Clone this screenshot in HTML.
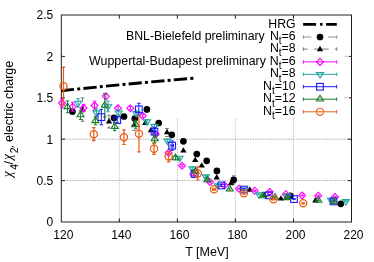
<!DOCTYPE html>
<html><head><meta charset="utf-8"><title>chi4/chi2 electric charge</title>
<style>
html,body{margin:0;padding:0;background:#fff;}
svg{display:block;will-change:transform;}
text{font-family:"Liberation Sans",sans-serif;font-size:12px;fill:#000;}
</style></head>
<body>
<svg width="374" height="262" viewBox="0 0 374 262">
<rect width="374" height="262" fill="#fff"/>
<path d="M119.3 118.3V222.0" stroke="#8c8c8c" stroke-width="0.5" stroke-dasharray="1.5 1.05" fill="none"/>
<path d="M177.4 118.3V222.0" stroke="#8c8c8c" stroke-width="0.5" stroke-dasharray="1.5 1.05" fill="none"/>
<path d="M235.4 118.3V222.0" stroke="#8c8c8c" stroke-width="0.5" stroke-dasharray="1.5 1.05" fill="none"/>
<path d="M293.5 118.3V222.0" stroke="#8c8c8c" stroke-width="0.5" stroke-dasharray="1.5 1.05" fill="none"/>
<path d="M61.3 180.6H351.5" stroke="#686868" stroke-width="0.55" stroke-dasharray="1.5 1.05" fill="none"/>
<path d="M61.3 139.2H351.5" stroke="#686868" stroke-width="0.55" stroke-dasharray="1.5 1.05" fill="none"/>
<rect x="61.3" y="15.0" width="290.2" height="207.0" stroke="#202020" stroke-width="1" fill="none"/>
<path d="M344.4 97.8H351.5" stroke="#9a9a9a" stroke-width="0.6" fill="none"/>
<path d="M344.4 56.4H351.5" stroke="#9a9a9a" stroke-width="0.6" fill="none"/>
<path d="M119.3 15.0v3.7M119.3 222.0v-3.7M177.4 15.0v3.7M177.4 222.0v-3.7M235.4 15.0v3.7M235.4 222.0v-3.7M293.5 15.0v3.7M293.5 222.0v-3.7M61.3 180.6h3.7M351.5 180.6h-3.7M61.3 139.2h3.7M351.5 139.2h-3.7M61.3 97.8h3.7M351.5 97.8h-2.4M61.3 56.4h3.7M351.5 56.4h-2.4" stroke="#202020" stroke-width="1" fill="none"/>
<text x="63.3" y="238.7" text-anchor="middle">120</text>
<text x="121.3" y="238.7" text-anchor="middle">140</text>
<text x="179.4" y="238.7" text-anchor="middle">160</text>
<text x="237.4" y="238.7" text-anchor="middle">180</text>
<text x="295.5" y="238.7" text-anchor="middle">200</text>
<text x="353.5" y="238.7" text-anchor="middle">220</text>
<text x="53.3" y="226.3" text-anchor="end">0</text>
<text x="53.3" y="184.9" text-anchor="end">0.5</text>
<text x="53.3" y="143.5" text-anchor="end">1</text>
<text x="53.3" y="102.1" text-anchor="end">1.5</text>
<text x="53.3" y="60.7" text-anchor="end">2</text>
<text x="53.3" y="19.3" text-anchor="end">2.5</text>
<text x="206.9" y="256.0" text-anchor="middle" style="font-size:12.5px">T [MeV]</text>
<g transform="translate(12.9 177.2) rotate(-90)">
<text x="0.0" y="-0.7" style="font-family:Liberation Serif;font-style:italic;font-size:13.6px">χ</text>
<text x="7.4" y="5.0" style="font-size:10.4px">4</text>
<text x="12.6" y="0" style="font-size:12.5px">/</text>
<text x="17.1" y="-0.7" style="font-family:Liberation Serif;font-style:italic;font-size:13.6px">χ</text>
<text x="24.0" y="5.0" style="font-size:10.4px">2</text>
<text x="28.6" y="0" style="font-size:12.5px">,</text>
<text x="35.2" y="0" style="font-size:12.5px">electric charge</text>
</g>
<path d="M61 90.8 Q 120 84.4 193.9 78.2" stroke="#000" stroke-width="2.9" fill="none" stroke-dasharray="13.3 3.2 3 3.2"/>
<circle cx="72.4" cy="111.6" r="3.35" fill="#000"/>
<circle cx="114.0" cy="117.9" r="3.35" fill="#000"/>
<circle cx="124.0" cy="116.5" r="3.35" fill="#000"/>
<circle cx="134.8" cy="118.5" r="3.35" fill="#000"/>
<circle cx="146.9" cy="109.4" r="3.35" fill="#000"/>
<circle cx="158.7" cy="123.0" r="3.35" fill="#000"/>
<circle cx="171.8" cy="134.8" r="3.35" fill="#000"/>
<circle cx="183.4" cy="141.3" r="3.35" fill="#000"/>
<circle cx="196.8" cy="154.0" r="3.35" fill="#000"/>
<circle cx="206.7" cy="160.8" r="3.35" fill="#000"/>
<circle cx="216.9" cy="170.9" r="3.35" fill="#000"/>
<path d="M233.7 175.8V183.8" stroke="#555" stroke-width="0.7" fill="none" stroke-dasharray="8 16.7"/><path d="M231.9 175.8h3.5M231.9 183.8h3.5" stroke="#555" stroke-width="0.7" fill="none"/>
<circle cx="233.7" cy="179.8" r="3.35" fill="#000"/>
<circle cx="290.4" cy="195.8" r="3.35" fill="#000"/>
<circle cx="340.8" cy="203.8" r="3.35" fill="#000"/>
<path d="M82.6 97.9V121.3" stroke="#444" stroke-width="0.7" fill="none" stroke-dasharray="4.3 6.3"/><path d="M80.8 97.9h3.5M80.8 121.3h3.5" stroke="#444" stroke-width="0.7" fill="none"/>
<path d="M82.6 106.0L85.8 111.4H79.4Z" fill="#000"/>
<path d="M109.0 115.2V128.0" stroke="#444" stroke-width="0.7" fill="none" stroke-dasharray="4.3 6.3"/><path d="M107.2 115.2h3.5M107.2 128.0h3.5" stroke="#444" stroke-width="0.7" fill="none"/>
<path d="M109.0 118.0L112.2 123.4H105.8Z" fill="#000"/>
<path d="M134.1 119.8V130.4" stroke="#444" stroke-width="0.7" fill="none" stroke-dasharray="4.3 6.3"/><path d="M132.3 119.8h3.5M132.3 130.4h3.5" stroke="#444" stroke-width="0.7" fill="none"/>
<path d="M134.1 121.5L137.3 126.9H130.9Z" fill="#000"/>
<path d="M145.2 119.7L148.4 125.0H142.0Z" fill="#000"/>
<path d="M151.0 126.8L154.2 132.2H147.8Z" fill="#000"/>
<path d="M167.0 128.5V136.5" stroke="#444" stroke-width="0.7" fill="none" stroke-dasharray="4.3 6.3"/><path d="M165.2 128.5h3.5M165.2 136.5h3.5" stroke="#444" stroke-width="0.7" fill="none"/>
<path d="M167.0 128.9L170.2 134.3H163.8Z" fill="#000"/>
<path d="M183.4 147.2L186.6 152.6H180.2Z" fill="#000"/>
<path d="M195.2 156.7L198.4 162.1H192.0Z" fill="#000"/>
<path d="M201.7 162.2L204.9 167.6H198.5Z" fill="#000"/>
<path d="M216.7 174.1L219.9 179.5H213.5Z" fill="#000"/>
<path d="M231.0 179.8L234.2 185.2H227.8Z" fill="#000"/>
<path d="M249.8 186.2L253.0 191.7H246.6Z" fill="#000"/>
<path d="M264.5 191.8L267.7 197.2H261.3Z" fill="#000"/>
<path d="M281.0 195.2L284.2 200.6H277.8Z" fill="#000"/>
<path d="M286.5 194.2L289.7 199.7H283.3Z" fill="#000"/>
<path d="M315.4 197.1L318.6 202.5H312.2Z" fill="#000"/>
<path d="M62.0 98.6V107.6M60.2 98.6h3.5M60.2 107.6h3.5" stroke="#ff00ff" stroke-width="1.0" fill="none" />
<path d="M62.0 99.6L65.5 103.1L62.0 106.6L58.5 103.1Z" fill="none" stroke="#ff00ff" stroke-width="1.1"/>
<path d="M72.7 102.3V111.3M71.0 102.3h3.5M71.0 111.3h3.5" stroke="#ff00ff" stroke-width="1.0" fill="none" />
<path d="M72.7 103.3L76.2 106.8L72.7 110.3L69.2 106.8Z" fill="none" stroke="#ff00ff" stroke-width="1.1"/>
<path d="M83.5 104.3V111.8M81.8 104.3h3.5M81.8 111.8h3.5" stroke="#ff00ff" stroke-width="1.0" fill="none" />
<path d="M83.5 104.5L87.0 108.0L83.5 111.5L80.0 108.0Z" fill="none" stroke="#ff00ff" stroke-width="1.1"/>
<path d="M94.5 101.1V110.0M92.8 101.1h3.5M92.8 110.0h3.5" stroke="#ff00ff" stroke-width="1.0" fill="none" />
<path d="M94.5 102.0L98.0 105.5L94.5 109.0L91.0 105.5Z" fill="none" stroke="#ff00ff" stroke-width="1.1"/>
<path d="M105.9 93.8V98.8M104.2 93.8h3.5M104.2 98.8h3.5" stroke="#ff00ff" stroke-width="1.0" fill="none" />
<path d="M105.9 92.8L109.4 96.3L105.9 99.8L102.4 96.3Z" fill="none" stroke="#ff00ff" stroke-width="1.1"/>
<path d="M118.0 106.8V109.8M116.2 106.8h3.5M116.2 109.8h3.5" stroke="#ff00ff" stroke-width="1.0" fill="none" />
<path d="M118.0 104.8L121.5 108.2L118.0 111.8L114.5 108.2Z" fill="none" stroke="#ff00ff" stroke-width="1.1"/>
<path d="M130.3 106.8V109.8M128.6 106.8h3.5M128.6 109.8h3.5" stroke="#ff00ff" stroke-width="1.0" fill="none" />
<path d="M130.3 104.8L133.8 108.2L130.3 111.8L126.8 108.2Z" fill="none" stroke="#ff00ff" stroke-width="1.1"/>
<path d="M142.7 114.3V117.3M140.9 114.3h3.5M140.9 117.3h3.5" stroke="#ff00ff" stroke-width="1.0" fill="none" />
<path d="M142.7 112.3L146.2 115.8L142.7 119.3L139.2 115.8Z" fill="none" stroke="#ff00ff" stroke-width="1.1"/>
<path d="M155.8 133.2V135.5M154.1 133.2h3.5M154.1 135.5h3.5" stroke="#ff00ff" stroke-width="1.0" fill="none" />
<path d="M155.8 130.8L159.3 134.3L155.8 137.8L152.3 134.3Z" fill="none" stroke="#ff00ff" stroke-width="1.1"/>
<path d="M168.6 151.6V153.9M166.8 151.6h3.5M166.8 153.9h3.5" stroke="#ff00ff" stroke-width="1.0" fill="none" />
<path d="M168.6 149.2L172.1 152.8L168.6 156.2L165.1 152.8Z" fill="none" stroke="#ff00ff" stroke-width="1.1"/>
<path d="M182.0 164.8V166.8M180.2 164.8h3.5M180.2 166.8h3.5" stroke="#ff00ff" stroke-width="1.0" fill="none" />
<path d="M182.0 162.3L185.5 165.8L182.0 169.3L178.5 165.8Z" fill="none" stroke="#ff00ff" stroke-width="1.1"/>
<path d="M193.3 173.3V175.3M191.6 173.3h3.5M191.6 175.3h3.5" stroke="#ff00ff" stroke-width="1.0" fill="none" />
<path d="M193.3 170.8L196.8 174.3L193.3 177.8L189.8 174.3Z" fill="none" stroke="#ff00ff" stroke-width="1.1"/>
<path d="M209.9 181.1V182.8M208.2 181.1h3.5M208.2 182.8h3.5" stroke="#ff00ff" stroke-width="1.0" fill="none" />
<path d="M209.9 178.4L213.4 181.9L209.9 185.4L206.4 181.9Z" fill="none" stroke="#ff00ff" stroke-width="1.1"/>
<path d="M224.4 184.5V186.2M222.7 184.5h3.5M222.7 186.2h3.5" stroke="#ff00ff" stroke-width="1.0" fill="none" />
<path d="M224.4 181.8L227.9 185.3L224.4 188.8L220.9 185.3Z" fill="none" stroke="#ff00ff" stroke-width="1.1"/>
<path d="M239.0 188.2V189.3M237.2 188.2h3.5M237.2 189.3h3.5" stroke="#ff00ff" stroke-width="1.0" fill="none" />
<path d="M239.0 185.2L242.5 188.8L239.0 192.2L235.5 188.8Z" fill="none" stroke="#ff00ff" stroke-width="1.1"/>
<path d="M254.6 190.2V191.3M252.8 190.2h3.5M252.8 191.3h3.5" stroke="#ff00ff" stroke-width="1.0" fill="none" />
<path d="M254.6 187.2L258.1 190.8L254.6 194.2L251.1 190.8Z" fill="none" stroke="#ff00ff" stroke-width="1.1"/>
<path d="M269.7 191.5V192.5M267.9 191.5h3.5M267.9 192.5h3.5" stroke="#ff00ff" stroke-width="1.0" fill="none" />
<path d="M269.7 188.5L273.2 192.0L269.7 195.5L266.2 192.0Z" fill="none" stroke="#ff00ff" stroke-width="1.1"/>
<path d="M285.8 193.7V194.7M284.1 193.7h3.5M284.1 194.7h3.5" stroke="#ff00ff" stroke-width="1.0" fill="none" />
<path d="M285.8 190.7L289.3 194.2L285.8 197.7L282.3 194.2Z" fill="none" stroke="#ff00ff" stroke-width="1.1"/>
<path d="M302.1 195.1V195.9M300.4 195.1h3.5M300.4 195.9h3.5" stroke="#ff00ff" stroke-width="1.0" fill="none" />
<path d="M302.1 192.0L305.6 195.5L302.1 199.0L298.6 195.5Z" fill="none" stroke="#ff00ff" stroke-width="1.1"/>
<path d="M318.2 195.3V196.2M316.4 195.3h3.5M316.4 196.2h3.5" stroke="#ff00ff" stroke-width="1.0" fill="none" />
<path d="M318.2 192.2L321.7 195.8L318.2 199.2L314.7 195.8Z" fill="none" stroke="#ff00ff" stroke-width="1.1"/>
<path d="M334.9 196.6V197.4M333.1 196.6h3.5M333.1 197.4h3.5" stroke="#ff00ff" stroke-width="1.0" fill="none" />
<path d="M334.9 193.5L338.4 197.0L334.9 200.5L331.4 197.0Z" fill="none" stroke="#ff00ff" stroke-width="1.1"/>
<path d="M78.1 98.7V107.1M76.3 98.7h3.5M76.3 107.1h3.5" stroke="#1fa5a0" stroke-width="1.0" fill="none" />
<path d="M78.1 106.7L81.6 101.2H74.6Z" fill="none" stroke="#1fa5a0" stroke-width="1.1"/>
<path d="M96.4 108.6V116.6M94.7 108.6h3.5M94.7 116.6h3.5" stroke="#1fa5a0" stroke-width="1.0" fill="none" />
<path d="M96.4 116.4L99.9 110.9H92.9Z" fill="none" stroke="#1fa5a0" stroke-width="1.1"/>
<path d="M108.0 101.0V111.8M106.2 101.0h3.5M106.2 111.8h3.5" stroke="#1fa5a0" stroke-width="1.0" fill="none" />
<path d="M108.0 110.2L111.5 104.7H104.5Z" fill="none" stroke="#1fa5a0" stroke-width="1.1"/>
<path d="M118.7 109.8V115.8M117.0 109.8h3.5M117.0 115.8h3.5" stroke="#1fa5a0" stroke-width="1.0" fill="none" />
<path d="M118.7 116.5L122.2 111.0H115.2Z" fill="none" stroke="#1fa5a0" stroke-width="1.1"/>
<path d="M136.2 110.8V115.8M134.4 110.8h3.5M134.4 115.8h3.5" stroke="#1fa5a0" stroke-width="1.0" fill="none" />
<path d="M136.2 117.1L139.7 111.6H132.7Z" fill="none" stroke="#1fa5a0" stroke-width="1.1"/>
<path d="M147.0 119.6V123.6M145.2 119.6h3.5M145.2 123.6h3.5" stroke="#1fa5a0" stroke-width="1.0" fill="none" />
<path d="M147.0 125.4L150.5 119.9H143.5Z" fill="none" stroke="#1fa5a0" stroke-width="1.1"/>
<path d="M154.6 124.2V128.2M152.8 124.2h3.5M152.8 128.2h3.5" stroke="#1fa5a0" stroke-width="1.0" fill="none" />
<path d="M154.6 130.1L158.1 124.5H151.1Z" fill="none" stroke="#1fa5a0" stroke-width="1.1"/>
<path d="M167.4 139.2V142.2M165.7 139.2h3.5M165.7 142.2h3.5" stroke="#1fa5a0" stroke-width="1.0" fill="none" />
<path d="M167.4 144.6L170.9 139.1H163.9Z" fill="none" stroke="#1fa5a0" stroke-width="1.1"/>
<path d="M179.6 156.8V159.1M177.8 156.8h3.5M177.8 159.1h3.5" stroke="#1fa5a0" stroke-width="1.0" fill="none" />
<path d="M179.6 161.8L183.1 156.2H176.1Z" fill="none" stroke="#1fa5a0" stroke-width="1.1"/>
<path d="M192.3 167.3V169.3M190.6 167.3h3.5M190.6 169.3h3.5" stroke="#1fa5a0" stroke-width="1.0" fill="none" />
<path d="M192.3 172.2L195.8 166.7H188.8Z" fill="none" stroke="#1fa5a0" stroke-width="1.1"/>
<path d="M205.7 175.3V177.3M203.9 175.3h3.5M203.9 177.3h3.5" stroke="#1fa5a0" stroke-width="1.0" fill="none" />
<path d="M205.7 180.2L209.2 174.7H202.2Z" fill="none" stroke="#1fa5a0" stroke-width="1.1"/>
<path d="M217.7 184.5V186.2M215.9 184.5h3.5M215.9 186.2h3.5" stroke="#1fa5a0" stroke-width="1.0" fill="none" />
<path d="M217.7 189.2L221.2 183.7H214.2Z" fill="none" stroke="#1fa5a0" stroke-width="1.1"/>
<path d="M243.0 188.8V189.9M241.2 188.8h3.5M241.2 189.9h3.5" stroke="#1fa5a0" stroke-width="1.0" fill="none" />
<path d="M243.0 193.2L246.5 187.7H239.5Z" fill="none" stroke="#1fa5a0" stroke-width="1.1"/>
<path d="M259.0 193.8V194.8M257.2 193.8h3.5M257.2 194.8h3.5" stroke="#1fa5a0" stroke-width="1.0" fill="none" />
<path d="M259.0 198.2L262.5 192.7H255.5Z" fill="none" stroke="#1fa5a0" stroke-width="1.1"/>
<path d="M287.5 195.2V196.2M285.8 195.2h3.5M285.8 196.2h3.5" stroke="#1fa5a0" stroke-width="1.0" fill="none" />
<path d="M287.5 199.5L291.0 194.0H284.0Z" fill="none" stroke="#1fa5a0" stroke-width="1.1"/>
<path d="M331.0 199.4V200.2M329.2 199.4h3.5M329.2 200.2h3.5" stroke="#1fa5a0" stroke-width="1.0" fill="none" />
<path d="M331.0 203.7L334.5 198.2H327.5Z" fill="none" stroke="#1fa5a0" stroke-width="1.1"/>
<path d="M345.8 200.8V201.7M344.1 200.8h3.5M344.1 201.7h3.5" stroke="#1fa5a0" stroke-width="1.0" fill="none" />
<path d="M345.8 205.1L349.3 199.6H342.3Z" fill="none" stroke="#1fa5a0" stroke-width="1.1"/>
<path d="M101.3 109.4V124.8M99.5 109.4h3.5M99.5 124.8h3.5" stroke="#1a1aff" stroke-width="1.0" fill="none" />
<rect x="98.0" y="113.8" width="6.7" height="6.7" fill="none" stroke="#1a1aff" stroke-width="1.1"/>
<path d="M117.2 117.0V123.0M115.5 117.0h3.5M115.5 123.0h3.5" stroke="#1a1aff" stroke-width="1.0" fill="none" />
<rect x="113.9" y="116.7" width="6.7" height="6.7" fill="none" stroke="#1a1aff" stroke-width="1.1"/>
<path d="M138.8 103.3V115.3M137.1 103.3h3.5M137.1 115.3h3.5" stroke="#1a1aff" stroke-width="1.0" fill="none" />
<rect x="135.5" y="106.0" width="6.7" height="6.7" fill="none" stroke="#1a1aff" stroke-width="1.1"/>
<path d="M153.1 131.7H155.7M153.1 129.9v3.5M155.7 129.9v3.5" stroke="#1a1aff" stroke-width="1.0" fill="none"/>
<path d="M154.4 127.2V136.2M152.7 127.2h3.5M152.7 136.2h3.5" stroke="#1a1aff" stroke-width="1.0" fill="none" />
<rect x="151.1" y="128.3" width="6.7" height="6.7" fill="none" stroke="#1a1aff" stroke-width="1.1"/>
<path d="M170.9 145.7H173.5M170.9 143.9v3.5M173.5 143.9v3.5" stroke="#1a1aff" stroke-width="1.0" fill="none"/>
<path d="M172.2 141.0V150.3M170.4 141.0h3.5M170.4 150.3h3.5" stroke="#1a1aff" stroke-width="1.0" fill="none" />
<rect x="168.8" y="142.3" width="6.7" height="6.7" fill="none" stroke="#1a1aff" stroke-width="1.1"/>
<path d="M194.6 171.9V175.9M192.8 171.9h3.5M192.8 175.9h3.5" stroke="#1a1aff" stroke-width="1.0" fill="none" />
<rect x="191.2" y="170.6" width="6.7" height="6.7" fill="none" stroke="#1a1aff" stroke-width="1.1"/>
<path d="M221.3 184.4V186.4M219.6 184.4h3.5M219.6 186.4h3.5" stroke="#1a1aff" stroke-width="1.0" fill="none" />
<rect x="218.0" y="182.1" width="6.7" height="6.7" fill="none" stroke="#1a1aff" stroke-width="1.1"/>
<path d="M243.8 188.7V190.3M242.1 188.7h3.5M242.1 190.3h3.5" stroke="#1a1aff" stroke-width="1.0" fill="none" />
<rect x="240.5" y="186.2" width="6.7" height="6.7" fill="none" stroke="#1a1aff" stroke-width="1.1"/>
<path d="M268.8 194.8V195.9M267.1 194.8h3.5M267.1 195.9h3.5" stroke="#1a1aff" stroke-width="1.0" fill="none" />
<rect x="265.4" y="192.0" width="6.7" height="6.7" fill="none" stroke="#1a1aff" stroke-width="1.1"/>
<path d="M294.0 198.6V199.4M292.2 198.6h3.5M292.2 199.4h3.5" stroke="#1a1aff" stroke-width="1.0" fill="none" />
<rect x="290.6" y="195.7" width="6.7" height="6.7" fill="none" stroke="#1a1aff" stroke-width="1.1"/>
<path d="M333.6 201.0V201.8M331.9 201.0h3.5M331.9 201.8h3.5" stroke="#1a1aff" stroke-width="1.0" fill="none" />
<rect x="330.2" y="198.1" width="6.7" height="6.7" fill="none" stroke="#1a1aff" stroke-width="1.1"/>
<path d="M67.5 100.9V112.8M65.8 100.9h3.5M65.8 112.8h3.5" stroke="#1a7a2a" stroke-width="1.0" fill="none" />
<path d="M67.5 103.0L71.0 108.6H64.0Z" fill="none" stroke="#1a7a2a" stroke-width="1.1"/>
<path d="M80.6 110.3V119.5M78.8 110.3h3.5M78.8 119.5h3.5" stroke="#1a7a2a" stroke-width="1.0" fill="none" />
<path d="M80.6 111.1L84.1 116.7H77.1Z" fill="none" stroke="#1a7a2a" stroke-width="1.1"/>
<path d="M95.4 116.8V124.8M93.7 116.8h3.5M93.7 124.8h3.5" stroke="#1a7a2a" stroke-width="1.0" fill="none" />
<path d="M95.4 117.0L98.9 122.6H91.9Z" fill="none" stroke="#1a7a2a" stroke-width="1.1"/>
<path d="M104.8 93.6V117.0M103.0 93.6h3.5M103.0 117.0h3.5" stroke="#1a7a2a" stroke-width="1.0" fill="none" />
<path d="M104.8 101.5L108.3 107.1H101.3Z" fill="none" stroke="#1a7a2a" stroke-width="1.1"/>
<path d="M114.7 122.6V130.6M113.0 122.6h3.5M113.0 130.6h3.5" stroke="#1a7a2a" stroke-width="1.0" fill="none" />
<path d="M114.7 122.8L118.2 128.4H111.2Z" fill="none" stroke="#1a7a2a" stroke-width="1.1"/>
<path d="M135.8 120.8V128.8M134.1 120.8h3.5M134.1 128.8h3.5" stroke="#1a7a2a" stroke-width="1.0" fill="none" />
<path d="M135.8 121.0L139.3 126.6H132.3Z" fill="none" stroke="#1a7a2a" stroke-width="1.1"/>
<path d="M154.7 135.4V142.4M152.9 135.4h3.5M152.9 142.4h3.5" stroke="#1a7a2a" stroke-width="1.0" fill="none" />
<path d="M154.7 135.1L158.2 140.8H151.2Z" fill="none" stroke="#1a7a2a" stroke-width="1.1"/>
<path d="M175.4 155.8V159.8M173.7 155.8h3.5M173.7 159.8h3.5" stroke="#1a7a2a" stroke-width="1.0" fill="none" />
<path d="M175.4 154.0L178.9 159.7H171.9Z" fill="none" stroke="#1a7a2a" stroke-width="1.1"/>
<path d="M195.5 169.8V172.8M193.8 169.8h3.5M193.8 172.8h3.5" stroke="#1a7a2a" stroke-width="1.0" fill="none" />
<path d="M195.5 167.5L199.0 173.2H192.0Z" fill="none" stroke="#1a7a2a" stroke-width="1.1"/>
<path d="M207.3 178.7V181.0M205.6 178.7h3.5M205.6 181.0h3.5" stroke="#1a7a2a" stroke-width="1.0" fill="none" />
<path d="M207.3 176.0L210.8 181.7H203.8Z" fill="none" stroke="#1a7a2a" stroke-width="1.1"/>
<path d="M229.7 188.2V190.2M227.9 188.2h3.5M227.9 190.2h3.5" stroke="#1a7a2a" stroke-width="1.0" fill="none" />
<path d="M229.7 185.3L233.2 191.0H226.2Z" fill="none" stroke="#1a7a2a" stroke-width="1.1"/>
<path d="M263.0 195.2V196.4M261.2 195.2h3.5M261.2 196.4h3.5" stroke="#1a7a2a" stroke-width="1.0" fill="none" />
<path d="M263.0 192.0L266.5 197.7H259.5Z" fill="none" stroke="#1a7a2a" stroke-width="1.1"/>
<path d="M275.0 196.8V197.9M273.2 196.8h3.5M273.2 197.9h3.5" stroke="#1a7a2a" stroke-width="1.0" fill="none" />
<path d="M275.0 193.5L278.5 199.2H271.5Z" fill="none" stroke="#1a7a2a" stroke-width="1.1"/>
<path d="M287.0 197.5V198.5M285.2 197.5h3.5M285.2 198.5h3.5" stroke="#1a7a2a" stroke-width="1.0" fill="none" />
<path d="M287.0 194.2L290.5 199.8H283.5Z" fill="none" stroke="#1a7a2a" stroke-width="1.1"/>
<path d="M318.4 200.1V200.9M316.6 200.1h3.5M316.6 200.9h3.5" stroke="#1a7a2a" stroke-width="1.0" fill="none" />
<path d="M318.4 196.7L321.9 202.3H314.9Z" fill="none" stroke="#1a7a2a" stroke-width="1.1"/>
<path d="M334.0 201.2V202.1M332.2 201.2h3.5M332.2 202.1h3.5" stroke="#1a7a2a" stroke-width="1.0" fill="none" />
<path d="M334.0 197.8L337.5 203.5H330.5Z" fill="none" stroke="#1a7a2a" stroke-width="1.1"/>
<path d="M63.5 67.1V105.5M61.8 67.1h3.5M61.8 105.5h3.5" stroke="#ec5a14" stroke-width="1.2" fill="none" />
<circle cx="63.5" cy="86.3" r="3.6" fill="none" stroke="#ec5a14" stroke-width="1.25"/>
<path d="M93.8 127.7V140.7M92.0 127.7h3.5M92.0 140.7h3.5" stroke="#ec5a14" stroke-width="1.2" fill="none" />
<circle cx="93.8" cy="134.2" r="3.6" fill="none" stroke="#ec5a14" stroke-width="1.25"/>
<path d="M123.9 129.8V144.5M122.2 129.8h3.5M122.2 144.5h3.5" stroke="#ec5a14" stroke-width="1.2" fill="none" />
<circle cx="123.9" cy="137.2" r="3.6" fill="none" stroke="#ec5a14" stroke-width="1.25"/>
<path d="M139.0 115.8V151.8M137.2 115.8h3.5M137.2 151.8h3.5" stroke="#ec5a14" stroke-width="1.2" fill="none" />
<circle cx="139.0" cy="133.8" r="3.6" fill="none" stroke="#ec5a14" stroke-width="1.25"/>
<path d="M154.0 143.3V154.3M152.2 143.3h3.5M152.2 154.3h3.5" stroke="#ec5a14" stroke-width="1.2" fill="none" />
<circle cx="154.0" cy="148.8" r="3.6" fill="none" stroke="#ec5a14" stroke-width="1.25"/>
<path d="M168.7 151.0V161.8M166.9 151.0h3.5M166.9 161.8h3.5" stroke="#ec5a14" stroke-width="1.2" fill="none" />
<circle cx="168.7" cy="156.4" r="3.6" fill="none" stroke="#ec5a14" stroke-width="1.25"/>
<path d="M197.8 166.8V180.0M196.1 166.8h3.5M196.1 180.0h3.5" stroke="#ec5a14" stroke-width="1.2" fill="none" />
<circle cx="197.8" cy="173.4" r="3.6" fill="none" stroke="#ec5a14" stroke-width="1.25"/>
<path d="M212.8 189.3H215.2M212.8 187.6v3.5M215.2 187.6v3.5" stroke="#ec5a14" stroke-width="1.2" fill="none"/>
<path d="M214.0 188.8V189.8M212.2 188.8h3.5M212.2 189.8h3.5" stroke="#ec5a14" stroke-width="1.2" fill="none" />
<circle cx="214.0" cy="189.3" r="3.6" fill="none" stroke="#ec5a14" stroke-width="1.25"/>
<path d="M243.8 192.2V194.2M242.1 192.2h3.5M242.1 194.2h3.5" stroke="#ec5a14" stroke-width="1.2" fill="none" />
<circle cx="243.8" cy="193.2" r="3.6" fill="none" stroke="#ec5a14" stroke-width="1.25"/>
<path d="M273.5 198.6V199.8M271.8 198.6h3.5M271.8 199.8h3.5" stroke="#ec5a14" stroke-width="1.2" fill="none" />
<circle cx="273.5" cy="199.2" r="3.6" fill="none" stroke="#ec5a14" stroke-width="1.25"/>
<path d="M303.2 202.9V203.8M301.4 202.9h3.5M301.4 203.8h3.5" stroke="#ec5a14" stroke-width="1.2" fill="none" />
<circle cx="303.2" cy="203.3" r="3.6" fill="none" stroke="#ec5a14" stroke-width="1.25"/>
<text x="295.6" y="27.5" text-anchor="end" style="font-size:12.3px">HRG</text>
<text x="295.6" y="40.1" text-anchor="end" style="font-size:12.3px">BNL-Bielefeld preliminary <tspan dx="1.7">N</tspan><tspan font-size="10" dy="4.2">t</tspan><tspan dy="-4.2">=6</tspan></text>
<text x="295.6" y="52.2" text-anchor="end" style="font-size:12.3px"><tspan dx="0">N</tspan><tspan font-size="10" dy="4.2">t</tspan><tspan dy="-4.2">=8</tspan></text>
<text x="295.6" y="65.0" text-anchor="end" style="font-size:12.4px">Wuppertal-Budapest preliminary <tspan dx="0.4">N</tspan><tspan font-size="10" dy="4.2">t</tspan><tspan dy="-4.2">=6</tspan></text>
<text x="295.6" y="77.4" text-anchor="end" style="font-size:12.3px"><tspan dx="0">N</tspan><tspan font-size="10" dy="4.2">t</tspan><tspan dy="-4.2">=8</tspan></text>
<text x="295.6" y="89.8" text-anchor="end" style="font-size:12.3px"><tspan dx="0">N</tspan><tspan font-size="10" dy="4.2">t</tspan><tspan dy="-4.2">=10</tspan></text>
<text x="295.6" y="102.3" text-anchor="end" style="font-size:12.3px"><tspan dx="0">N</tspan><tspan font-size="10" dy="4.2">t</tspan><tspan dy="-4.2">=12</tspan></text>
<text x="295.6" y="114.9" text-anchor="end" style="font-size:12.3px"><tspan dx="0">N</tspan><tspan font-size="10" dy="4.2">t</tspan><tspan dy="-4.2">=16</tspan></text>
<path d="M303.1 24.4H316.1M320.1 24.4h2.4M326.1 24.4H336.8" stroke="#000" stroke-width="2.8" fill="none"/>
<path d="M303.4 37.0H311.4M328.1 37.0H336.7M303.4 35.3v3.4M336.7 35.3v3.4" stroke="#666" stroke-width="0.7" fill="none"/>
<circle cx="320.0" cy="37.0" r="3.35" fill="#000"/>
<path d="M303.4 49.1H307.7M314 49.1H328.5M334.7 49.1H336.7M303.4 47.4v3.4M336.7 47.4v3.4" stroke="#444" stroke-width="0.7" fill="none"/>
<path d="M320.0 45.8L323.2 51.2H316.8Z" fill="#000"/>
<path d="M303.4 61.9H336.7M303.4 60.199999999999996v3.4M336.7 60.199999999999996v3.4" stroke="#ff00ff" stroke-width="1.0" fill="none"/>
<path d="M320.0 58.4L323.5 61.9L320.0 65.4L316.5 61.9Z" fill="none" stroke="#ff00ff" stroke-width="1.1"/>
<path d="M303.4 74.3H336.7M303.4 72.6v3.4M336.7 72.6v3.4" stroke="#1fa5a0" stroke-width="1.0" fill="none"/>
<path d="M320.0 78.1L323.5 72.6H316.5Z" fill="none" stroke="#1fa5a0" stroke-width="1.1"/>
<path d="M303.4 86.7H336.7M303.4 85.0v3.4M336.7 85.0v3.4" stroke="#1a1aff" stroke-width="1.0" fill="none"/>
<rect x="316.6" y="83.4" width="6.7" height="6.7" fill="none" stroke="#1a1aff" stroke-width="1.1"/>
<path d="M303.4 99.2H336.7M303.4 97.5v3.4M336.7 97.5v3.4" stroke="#1a7a2a" stroke-width="1.0" fill="none"/>
<path d="M320.0 95.4L323.5 101.0H316.5Z" fill="none" stroke="#1a7a2a" stroke-width="1.1"/>
<path d="M303.4 111.8H336.7M303.4 110.1v3.4M336.7 110.1v3.4" stroke="#ec5a14" stroke-width="1.0" fill="none"/>
<circle cx="320.0" cy="111.8" r="3.6" fill="none" stroke="#ec5a14" stroke-width="1.1"/>
</svg>
</body></html>
